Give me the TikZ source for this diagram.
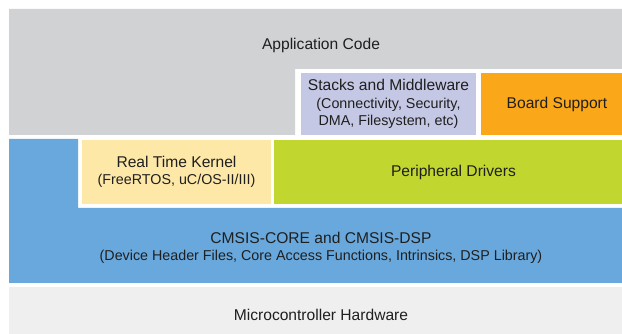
\documentclass[tikz,border=0pt]{standalone}
\usepackage{fontspec}
\setmainfont{Liberation Sans}
\usepackage{tikz}

\definecolor{appgray}{RGB}{209,210,212}
\definecolor{stacklav}{RGB}{197,200,228}
\definecolor{boardorange}{RGB}{250,168,25}
\definecolor{rtkyellow}{RGB}{253,232,168}
\definecolor{drvgreen}{RGB}{193,214,47}
\definecolor{cmsisblue}{RGB}{104,168,220}
\definecolor{hwgray}{RGB}{239,239,240}

\newcommand{\subtxt}{\fontsize{14.3}{17.5}\selectfont}

\begin{document}
\begin{tikzpicture}[x=1pt, y=-1pt,
      layer/.style={anchor=north west, inner sep=0pt, outer sep=0pt,
        align=center, text=black!88, font=\fontsize{15.6}{17.5}\selectfont},
      caption/.style={inner sep=0pt, align=center, text=black!88,
        font=\fontsize{15.6}{17.5}\selectfont}]

    \clip (0,0) rectangle (622,334);

    \fill[appgray] (9,9) -| (633,69) -| (295,135) -| cycle;
    \node[caption] (app) at (321,45) {Application Code};

    \node[layer, fill=stacklav, minimum width=175pt, minimum height=62pt]
      (stacks) at (301,73) {Stacks and Middleware\\
        \subtxt(Connectivity, Security,\\ \subtxt DMA, Filesystem, etc)};
    \node[layer, fill=boardorange, minimum width=152pt, minimum height=62pt]
      (board) at (481,73) {Board Support};

    \fill[cmsisblue] (9,139) -| (78,208) -| (633,283) -| cycle;
    \node[caption] (cmsis) at (321,248)
      {CMSIS-CORE and CMSIS-DSP\\
        \subtxt(Device Header Files, Core Access Functions, Intrinsics, DSP Library)};

    \node[layer, fill=rtkyellow, minimum width=189pt, minimum height=64pt]
      (rtk) at (82,140) {Real Time Kernel\\ \subtxt(FreeRTOS, uC/OS-II/III)};
    \node[layer, fill=drvgreen, minimum width=359pt, minimum height=64pt]
      (drivers) at (274,140) {Peripheral Drivers};

    \node[layer, fill=hwgray, minimum width=624pt, minimum height=56pt]
      (hw) at (9,287) {Microcontroller Hardware};

\end{tikzpicture}
\end{document}
